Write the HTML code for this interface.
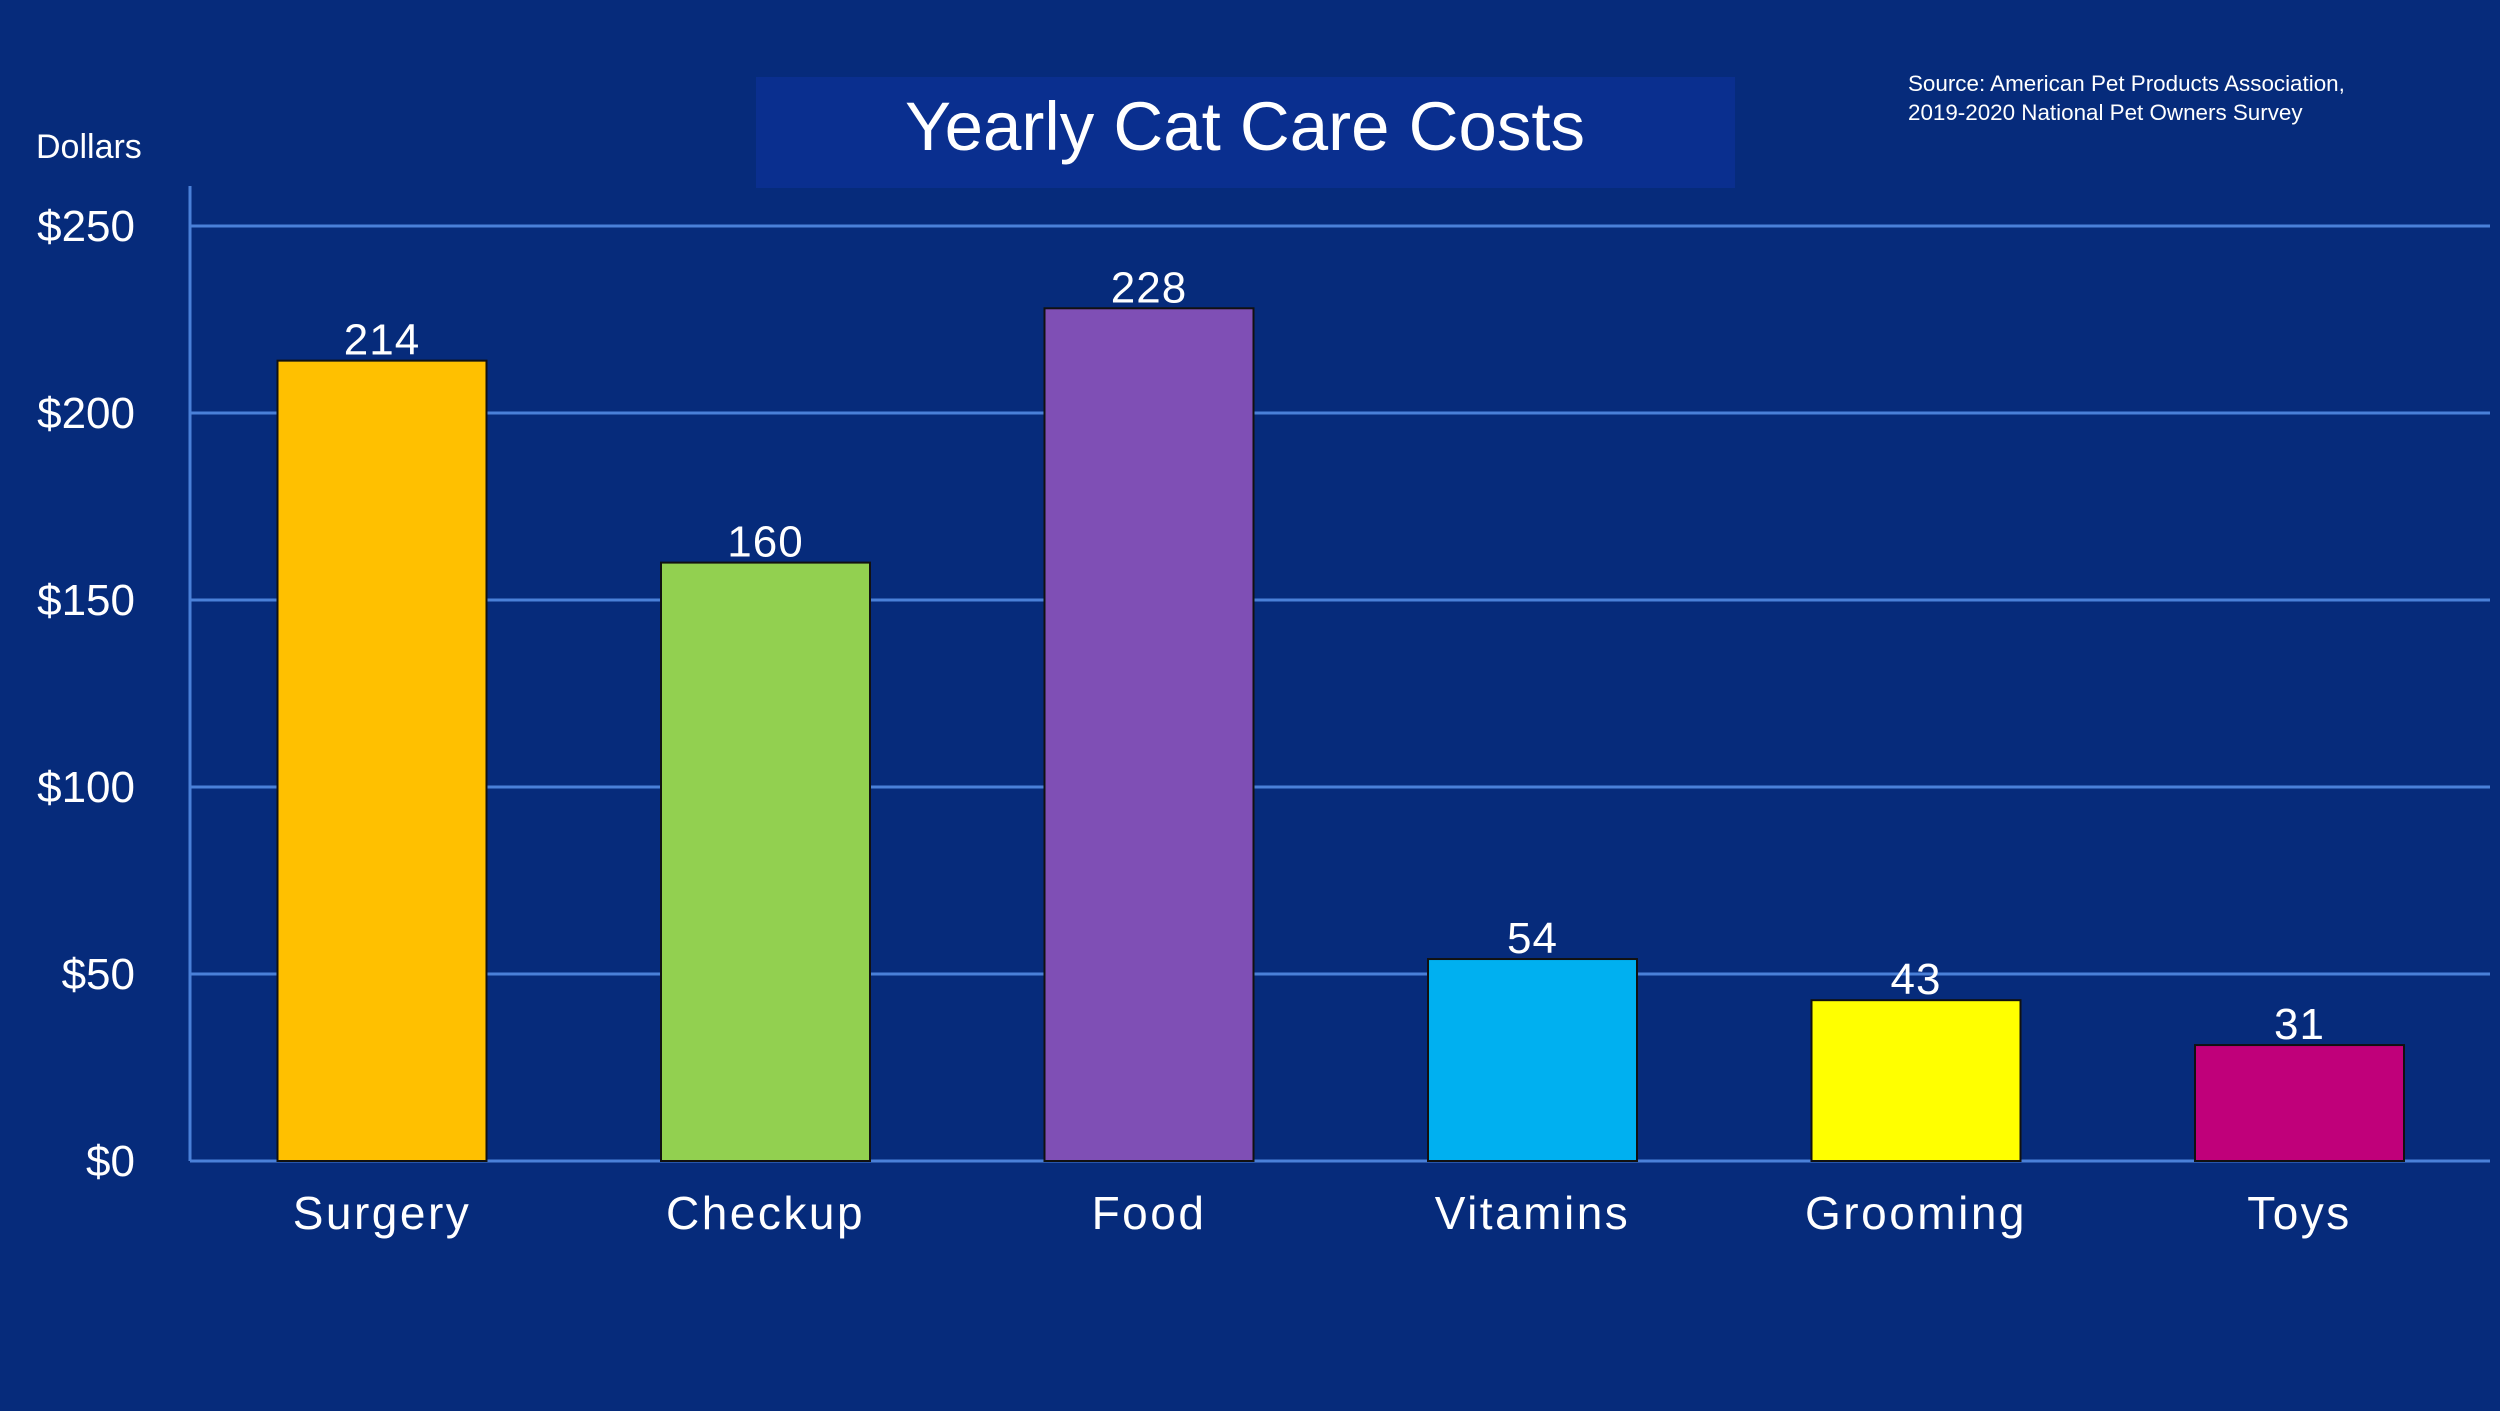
<!DOCTYPE html>
<html><head><meta charset="utf-8"><style>
html,body{margin:0;padding:0;}
body{width:2500px;height:1406px;background:#062b7b;overflow:hidden;position:relative;font-family:"Liberation Sans",sans-serif;}
</style></head><body>
<svg id="chart" width="2500" height="1406" xmlns="http://www.w3.org/2000/svg">
<rect x="756" y="77" width="979" height="111" fill="#0a2f8f"/>
<text x="1245" y="150" text-anchor="middle" fill="#fff" font-size="69" font-family="Liberation Sans, sans-serif">Yearly Cat Care Costs</text>
<text x="1908" y="91" fill="#fff" font-size="22.4">Source: American Pet Products Association,</text>
<text x="1908" y="120" fill="#fff" font-size="22.4">2019-2020 National Pet Owners Survey</text>
<text x="36" y="158" fill="#fff" font-size="34">Dollars</text>
<g id="grid"></g><g id="bars"></g>
</svg>
<script>
const categories=["Surgery","Checkup","Food","Vitamins","Grooming","Toys"];
const values=[214,160,228,54,43,31];
const colors=["#ffc000","#92d050","#7f4fb5","#00b0f0","#ffff00","#c0007a"];
const ticks=[0,50,100,150,200,250];
const tickLabels=["$0","$50","$100","$150","$200","$250"];
const NS="http://www.w3.org/2000/svg";
const x0=190,x1=2490,yBase=1161,yTop=226,vmax=250;
const y=v=>yBase-(yBase-yTop)*v/vmax;
const band=383.5,bw=209,firstC=382;
const xc=i=>firstC+i*band;
const grid=document.getElementById('grid'),bars=document.getElementById('bars');
function mk(t,a,p){const e=document.createElementNS(NS,t);for(const k in a)e.setAttribute(k,a[k]);p.appendChild(e);return e;}
const ax=mk('line',{x1:x0,x2:x0,y1:186,y2:yBase,stroke:'#4a80d8','stroke-width':3},grid);


ticks.forEach((t,i)=>{
 const l=mk('line',{x1:x0,x2:x1,y1:y(t),y2:y(t),stroke:'#4a80d8','stroke-width':3},grid);
 
 
 const tx=mk('text',{x:135,y:y(t)+15,'text-anchor':'end',fill:'#fff','font-size':44},grid);
 tx.textContent=tickLabels[i];
 
 
});
categories.forEach((c,i)=>{
 const v=values[i];
 const r=mk('rect',{x:xc(i)-bw/2,y:y(v),width:bw,height:yBase-y(v),fill:colors[i],stroke:'#111','stroke-width':2},bars);
 
 
 const vl=mk('text',{x:xc(i),y:y(v)-6,'text-anchor':'middle',fill:'#fff','font-size':44,'letter-spacing':1},bars);
 vl.textContent=v;
 
 
 const cl=mk('text',{x:xc(i),y:1229,'text-anchor':'middle',fill:'#fff','font-size':46,'letter-spacing':2.5},bars);
 cl.textContent=c;
 
 
});
</script>
</body></html>
